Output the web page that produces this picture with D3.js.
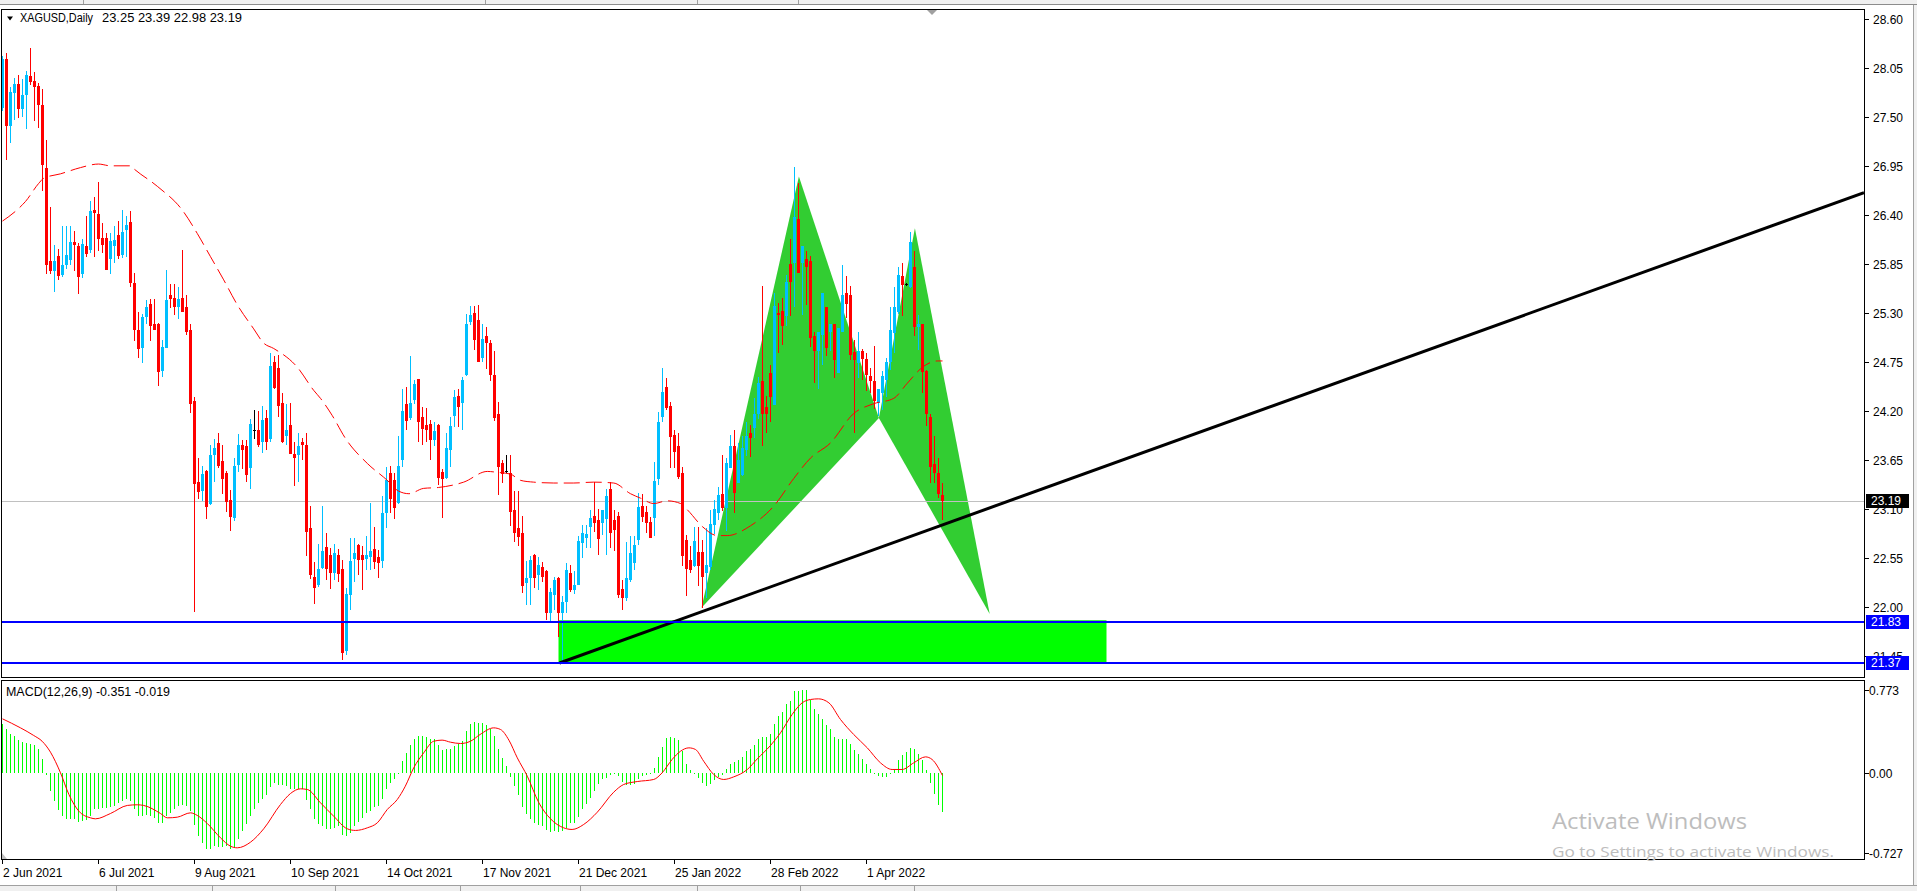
<!DOCTYPE html>
<html><head><meta charset="utf-8">
<script src="https://cdn.jsdelivr.net/npm/d3@7"></script>
<style>
html,body{margin:0;padding:0;background:#fff;overflow:hidden}
svg{display:block}
text{font-family:"Liberation Sans",Arial,sans-serif;font-size:12px}
</style></head><body>
<svg id="c" width="1917" height="891"></svg>
<script>
// ---------------- DATA ----------------
const symbolTitle = "XAGUSD,Daily";
const lastQuote = ["23.25","23.39","22.98","23.19"];
const macdTitle = "MACD(12,26,9) -0.351 -0.019";
const tickBars = [0,24,48,72,96,120,144,168,192,216];
const tickLabels = ["2 Jun 2021","6 Jul 2021","9 Aug 2021","10 Sep 2021","14 Oct 2021","17 Nov 2021","21 Dec 2021","25 Jan 2022","28 Feb 2022","1 Apr 2022"];
const priceTicks = [21.45,22.00,22.55,23.10,23.65,24.20,24.75,25.30,25.85,26.40,26.95,27.50,28.05,28.60];
const macdTicks = [0.773,0.00,-0.727];
const macdTickLabels = ["0.773","0.00","-0.727"];

const open = [
27.60,28.15,27.40,27.77,27.87,27.59,27.74,27.96,27.90,27.85,
27.63,26.93,25.88,25.77,25.94,25.72,25.84,25.89,26.10,26.05,
25.74,26.05,26.01,26.45,26.41,26.14,26.14,25.90,26.05,26.17,
25.95,26.23,26.32,25.64,25.11,24.91,25.25,25.40,25.18,25.18,
24.65,24.91,25.50,25.47,25.37,25.47,25.36,25.11,24.31,23.40,
23.30,23.52,23.15,23.70,23.84,23.64,23.50,23.20,23.00,23.59,
23.82,23.81,23.56,23.99,23.99,23.85,24.12,23.88,24.75,24.68,
24.29,23.92,24.04,23.72,23.70,23.85,23.82,22.89,22.33,22.25,
22.44,22.67,22.58,22.38,22.58,22.42,21.50,22.13,22.54,22.69,
22.58,22.54,22.56,22.65,22.56,22.52,23.05,23.50,23.42,23.17,
23.65,24.28,24.12,24.32,24.56,24.13,24.04,24.05,23.87,24.04,
23.51,23.45,23.76,24.14,24.37,24.29,24.60,25.20,25.30,25.22,
24.79,25.04,24.96,24.60,24.17,23.62,23.53,23.50,23.09,22.88,
22.83,22.27,22.32,22.58,22.36,22.45,22.40,21.93,22.13,22.32,
21.93,22.05,22.38,22.19,22.24,22.72,22.77,22.90,23.02,22.97,
22.94,22.99,23.32,22.97,23.02,22.20,22.10,22.30,22.49,22.75,
23.13,23.06,22.95,23.00,23.43,24.13,24.47,24.25,23.93,23.80,
23.50,22.75,22.53,22.46,22.62,22.62,22.38,22.45,22.92,23.05,
23.27,23.11,23.56,23.81,23.39,23.48,23.76,23.95,24.01,24.16,
24.54,24.24,24.62,24.27,25.30,25.32,25.26,25.85,25.86,26.35,
25.86,25.90,25.88,25.04,24.87,25.05,25.37,25.09,25.18,24.62,
25.09,25.52,25.50,24.86,24.74,24.87,24.78,24.59,24.53,24.29,
24.40,24.55,24.75,25.07,25.31,25.71,25.62,25.59,25.81,25.14,
25.17,24.65,24.13,23.60,23.50,23.25];
const high = [
28.18,28.22,27.84,27.94,27.97,27.92,28.01,28.27,28.00,27.88,
27.81,27.24,26.49,26.06,26.02,26.27,26.28,26.28,26.22,26.08,
26.13,26.39,26.55,26.60,26.77,26.31,26.20,26.20,26.27,26.33,
26.45,26.39,26.44,25.75,25.31,25.29,25.44,25.45,25.45,25.19,
24.99,25.78,25.62,25.62,25.59,26.00,25.50,25.18,24.35,23.67,
23.58,23.54,23.82,23.88,23.95,23.82,23.53,23.31,23.67,23.94,
23.87,23.87,24.11,24.21,24.20,24.25,24.21,24.85,24.81,24.83,
24.40,24.28,24.29,23.85,23.95,23.89,23.95,23.13,22.50,22.71,
23.13,22.83,22.66,22.70,22.65,22.53,22.21,22.77,22.77,22.70,
22.68,22.79,23.17,22.90,22.64,23.24,23.57,23.58,23.50,23.92,
24.45,24.47,24.82,24.55,24.56,24.24,24.23,24.10,24.08,24.05,
23.55,23.95,24.13,24.43,24.45,24.58,25.29,25.38,25.38,25.39,
25.18,25.14,25.00,24.87,24.30,23.65,23.70,23.71,23.30,23.30,
23.02,22.51,22.57,22.59,22.56,22.50,22.41,22.21,22.33,22.33,
22.12,22.49,22.47,22.40,22.79,22.92,22.92,23.09,23.40,23.10,
23.09,23.32,23.40,23.09,23.07,22.30,22.73,22.79,22.79,23.28,
23.27,23.13,23.01,23.63,24.19,24.68,24.57,24.30,23.99,23.95,
23.57,22.81,22.68,22.90,22.90,22.75,22.88,23.09,23.20,23.35,
23.70,23.67,23.93,23.98,23.84,23.92,24.08,24.04,24.34,24.58,
25.60,24.37,24.72,25.52,25.41,25.47,25.73,26.13,26.94,26.76,
26.05,25.99,25.94,25.09,25.09,25.52,25.37,25.18,25.18,25.13,
25.84,25.71,25.60,25.00,25.08,24.89,24.85,24.68,24.93,24.44,
24.65,24.79,25.37,25.59,25.81,25.86,25.64,26.21,25.99,25.28,
25.18,24.66,24.16,23.92,23.67,23.39];
const low = [
27.57,27.01,27.21,27.46,27.49,27.50,27.36,27.86,27.45,27.38,
26.67,25.74,25.74,25.53,25.67,25.70,25.79,25.84,25.77,25.51,
25.69,25.93,25.97,25.93,25.99,25.97,25.78,25.74,25.86,25.90,
25.91,25.93,25.59,24.98,24.79,24.74,25.18,24.98,25.11,24.48,
24.58,24.90,25.35,25.28,25.23,25.31,25.05,24.18,21.94,23.21,
23.19,22.99,23.14,23.40,23.56,23.27,23.07,22.85,22.96,23.51,
23.55,23.40,23.32,23.88,23.79,23.73,23.76,23.85,24.44,24.13,
23.84,23.82,23.72,23.36,23.40,23.65,22.57,22.31,22.03,22.22,
22.43,22.30,22.20,22.30,22.28,21.40,21.46,21.96,22.28,22.36,
22.19,22.41,22.41,22.43,22.32,22.44,22.88,23.05,22.99,23.15,
23.57,23.98,24.10,24.28,23.85,23.82,23.85,23.65,23.80,23.37,
23.00,23.43,23.57,24.02,24.02,23.98,24.59,25.16,24.88,24.75,
24.75,24.67,24.53,24.09,23.25,23.39,23.50,22.91,22.73,22.68,
22.16,22.02,22.02,22.21,22.19,22.28,21.85,21.83,21.97,21.66,
21.38,21.93,22.17,22.15,22.24,22.55,22.66,22.66,22.84,22.58,
22.81,22.58,22.66,22.63,22.10,21.96,22.07,22.28,22.41,22.69,
22.95,22.83,22.77,22.79,23.37,24.07,24.21,23.56,23.56,23.43,
22.46,22.12,22.38,22.45,22.23,21.99,22.10,22.41,22.82,22.98,
23.08,22.85,23.56,23.05,23.39,23.47,23.69,23.68,23.89,24.11,
23.81,23.95,24.07,24.26,24.85,24.94,25.15,25.27,25.37,25.75,
25.28,25.39,24.92,24.51,24.44,24.72,24.81,24.87,24.57,24.62,
25.09,25.24,24.77,23.95,24.57,24.55,24.42,24.40,24.22,24.14,
24.21,24.36,24.66,24.85,25.29,25.26,25.60,25.58,25.04,24.88,
24.40,24.03,23.39,23.39,23.22,22.98];
const close = [
28.15,27.40,27.78,27.87,27.59,27.74,27.97,27.89,27.83,27.63,
26.96,25.84,25.77,25.88,25.71,25.84,25.95,26.10,26.06,25.70,
26.07,25.96,26.44,26.42,26.13,26.06,25.78,26.11,26.12,25.94,
26.21,26.29,25.63,25.11,24.89,25.25,25.36,25.15,25.11,24.64,
24.92,25.44,25.46,25.36,25.46,25.31,25.08,24.28,23.38,23.29,
23.49,23.12,23.70,23.78,23.58,23.43,23.18,23.01,23.58,23.82,
23.76,23.48,24.05,23.99,23.82,24.10,23.85,24.70,24.46,24.25,
23.85,23.99,23.72,23.67,23.80,23.82,22.84,22.36,22.21,22.42,
22.63,22.42,22.38,22.60,22.37,21.48,22.15,22.51,22.61,22.53,
22.53,22.58,22.63,22.50,22.49,23.05,23.42,23.21,23.11,23.58,
24.20,24.09,24.29,24.50,24.07,24.00,23.99,23.87,23.97,23.45,
23.43,23.78,24.03,24.36,24.24,24.55,25.18,25.28,25.00,24.75,
25.01,24.96,24.60,24.12,23.57,23.49,23.53,23.07,22.83,22.78,
22.23,22.32,22.53,22.32,22.47,22.34,21.93,22.17,22.30,21.93,
22.05,22.41,22.19,22.24,22.74,22.83,22.82,23.00,22.94,22.76,
23.09,23.24,22.83,22.86,22.13,22.10,22.32,22.60,22.69,23.12,
23.01,22.94,22.77,23.41,24.07,24.41,24.23,23.91,23.74,23.46,
22.57,22.42,22.41,22.74,22.46,22.34,22.47,22.93,23.10,23.25,
23.11,23.61,23.80,23.28,23.65,23.78,23.92,23.90,24.16,24.51,
24.16,24.17,24.36,25.38,25.28,25.15,25.65,25.65,26.38,25.75,
26.05,25.81,25.02,24.87,25.09,25.52,24.90,25.18,24.77,25.13,
25.50,25.40,24.83,24.77,24.87,24.78,24.60,24.53,24.31,24.44,
24.59,24.75,25.11,25.37,25.72,25.61,25.62,26.09,25.14,25.18,
24.64,24.17,23.57,23.50,23.27,23.19];

const maBars = [0,4,5.75,9,10.3,14.5,19.5,24,27,32,32.75,38.7,45,48.7,52,55.3,58.7,62.8,65.3,67.8,73.7,77.8,79.5,82.4,85.75,91.2,96.2,99,101.6,105.3,109,115.3,121.2,123.7,127,129.5,132.8,137.8,142.8,147.8,152.8,157,159.5,162.8,166.2,169.5,171.2,175,178.7,181.2,187,192.8,197.8,202,207,212.8,217.8,222.8,226.2,230.3,233.7,235];
const maVals = [26.33,26.47,26.55,26.75,26.81,26.86,26.93,26.97,26.95,26.95,26.92,26.72,26.45,26.19,25.93,25.67,25.39,25.12,24.96,24.90,24.69,24.43,24.34,24.15,23.89,23.61,23.42,23.30,23.27,23.33,23.34,23.40,23.52,23.51,23.49,23.42,23.40,23.39,23.39,23.40,23.39,23.27,23.22,23.16,23.19,23.16,23.09,22.90,22.80,22.80,22.91,23.13,23.44,23.67,23.84,24.17,24.28,24.34,24.51,24.70,24.76,24.76];

const macdMain = [
0.451,0.405,0.359,0.343,0.304,0.288,0.282,0.276,0.258,0.221,
0.135,-0.018,-0.163,-0.255,-0.337,-0.393,-0.423,-0.423,-0.423,-0.448,
-0.439,-0.429,-0.393,-0.331,-0.325,-0.316,-0.316,-0.307,-0.301,-0.270,
-0.255,-0.239,-0.255,-0.331,-0.393,-0.393,-0.386,-0.393,-0.408,-0.454,
-0.454,-0.393,-0.362,-0.331,-0.301,-0.294,-0.301,-0.347,-0.478,-0.577,
-0.638,-0.699,-0.693,-0.669,-0.675,-0.675,-0.669,-0.699,-0.675,-0.607,
-0.531,-0.469,-0.393,-0.331,-0.270,-0.239,-0.202,-0.123,-0.086,-0.110,
-0.110,-0.117,-0.141,-0.141,-0.141,-0.141,-0.245,-0.331,-0.417,-0.469,
-0.485,-0.509,-0.509,-0.500,-0.485,-0.570,-0.577,-0.546,-0.485,-0.448,
-0.408,-0.362,-0.347,-0.307,-0.301,-0.233,-0.141,-0.086,-0.055,0.006,
0.113,0.190,0.258,0.322,0.343,0.343,0.337,0.319,0.313,0.258,
0.215,0.221,0.227,0.251,0.276,0.297,0.389,0.460,0.472,0.466,
0.466,0.442,0.411,0.343,0.230,0.141,0.067,-0.031,-0.117,-0.202,
-0.307,-0.377,-0.417,-0.460,-0.478,-0.485,-0.521,-0.540,-0.530,-0.540,
-0.530,-0.500,-0.460,-0.454,-0.399,-0.331,-0.285,-0.224,-0.163,-0.101,
-0.049,-0.040,-0.018,-0.009,-0.025,-0.080,-0.110,-0.110,-0.101,-0.055,
-0.025,-0.018,-0.009,0.052,0.153,0.245,0.328,0.337,0.328,0.307,
0.205,0.092,0.031,0.006,-0.040,-0.092,-0.117,-0.101,-0.061,-0.031,
-0.018,0.037,0.092,0.104,0.123,0.153,0.205,0.221,0.258,0.319,
0.337,0.337,0.368,0.460,0.527,0.564,0.635,0.665,0.757,0.757,
0.767,0.767,0.675,0.589,0.543,0.497,0.442,0.405,0.337,0.319,
0.319,0.319,0.276,0.215,0.175,0.135,0.092,0.043,0.006,-0.025,
-0.031,-0.031,0.006,0.031,0.123,0.166,0.196,0.236,0.221,0.184,
0.123,0.031,-0.092,-0.193,-0.294,-0.351];
const sigBars = [0,4.5,7.8,9.9,12,14.5,16.6,19.1,22,23.25,27,31.2,33.7,35.3,39.5,41.2,43.7,47,48.7,51.2,54.5,57,58.7,62,65.3,69.5,72,74.5,76.2,79.5,82.8,86.2,88.25,91.2,93.7,96.2,98.7,100.7,102.8,105.3,107.8,109.9,112,114.5,117,119.4,122.8,124.5,126.6,128.7,131.2,134.1,137,140.3,142.4,145.3,148.7,152.8,155.3,158.7,162.8,164.9,167.4,169.5,171.6,173.25,175.3,177.8,180.3,182.8,186.2,188.7,192,194.5,197.4,199.9,202,204,206.6,209.5,212.8,216.2,219.5,222.4,224.9,227.8,230.75,232.4,235];
const sigVals = [0.503,0.420,0.350,0.297,0.196,0.006,-0.193,-0.347,-0.408,-0.417,-0.368,-0.294,-0.288,-0.294,-0.368,-0.408,-0.402,-0.362,-0.386,-0.460,-0.592,-0.669,-0.684,-0.632,-0.509,-0.285,-0.184,-0.141,-0.147,-0.270,-0.393,-0.509,-0.524,-0.500,-0.454,-0.331,-0.239,-0.117,0.052,0.190,0.297,0.307,0.288,0.276,0.297,0.359,0.420,0.405,0.307,0.144,-0.025,-0.270,-0.417,-0.500,-0.515,-0.469,-0.356,-0.172,-0.101,-0.074,-0.055,0.006,0.129,0.205,0.236,0.221,0.113,-0.009,-0.055,-0.031,0.037,0.135,0.258,0.374,0.543,0.650,0.681,0.687,0.650,0.497,0.359,0.236,0.098,0.037,0.037,0.098,0.153,0.129,-0.019];

// harmonic pattern X,A,B,C,D
const patternBars = [174.75,199.1,219.1,228.1,246.8];
const patternPrices = [21.99,26.83,24.12,26.25,21.92];
const zoneBars = [139,276];
const zonePrices = [21.37,21.85];
const trendBars = [139.25,279.5];
const trendPrices = [21.37,23.64];
const levels = [21.83,21.37];
const levelLabels = ["21.83","21.37"];
const currentPrice = 23.19;
const currentLabel = "23.19";

// ---------------- DRAW ----------------
const svg = d3.select("#c");
const PL=2, PR=1864, MT=10, MB=677, ST=681, SB=859;

const x = d3.scaleLinear().domain([0,1]).range([2.5,6.5]);
const y = d3.scaleLinear().domain([21.37,28.60]).range([663,18.8]);
const ym = d3.scaleLinear().domain([-0.727,0.773]).range([852.5,689.5]);
const col = i => Math.floor(x(i));

// chrome
svg.append("rect").attr("x",0).attr("y",0).attr("width",1917).attr("height",891).attr("fill","#fff");
svg.append("rect").attr("x",0).attr("y",0).attr("width",1917).attr("height",4).attr("fill","#f0f0f0");
svg.append("line").attr("x1",0).attr("x2",1917).attr("y1",4.5).attr("y2",4.5).attr("stroke","#8c8c8c");
[83,485,697,798].forEach(v=>svg.append("line").attr("x1",v+0.5).attr("x2",v+0.5).attr("y1",0).attr("y2",4).attr("stroke","#a0a0a0"));
svg.append("rect").attr("x",1914).attr("y",5).attr("width",3).attr("height",886).attr("fill","#f0f0f0");
svg.append("line").attr("x1",1913.5).attr("x2",1913.5).attr("y1",5).attr("y2",886).attr("stroke","#a0a0a0");
svg.append("rect").attr("x",0).attr("y",886).attr("width",1917).attr("height",5).attr("fill","#f0f0f0");
svg.append("line").attr("x1",0).attr("x2",1917).attr("y1",885.5).attr("y2",885.5).attr("stroke","#a0a0a0");
[116,212,335,460,580,697,800,914].forEach(v=>svg.append("line").attr("x1",v+0.5).attr("x2",v+0.5).attr("y1",886).attr("y2",891).attr("stroke","#a0a0a0"));

const defs = svg.append("defs");
defs.append("clipPath").attr("id","cm").append("rect").attr("x",PL).attr("y",MT).attr("width",PR-PL).attr("height",MB-MT);
defs.append("clipPath").attr("id","cs").append("rect").attr("x",PL).attr("y",ST).attr("width",PR-PL).attr("height",SB-ST);

const gm = svg.append("g").attr("clip-path","url(#cm)");
const gs = svg.append("g").attr("clip-path","url(#cs)");

// background objects: zone rectangle and pattern triangles
gm.append("rect").attr("x",x(zoneBars[0])).attr("y",y(zonePrices[1]))
  .attr("width",x(zoneBars[1])-x(zoneBars[0])).attr("height",y(zonePrices[0])-y(zonePrices[1]))
  .attr("fill","#00ff00");
const pts = patternBars.map((b,k)=>[x(b),y(patternPrices[k])]);
const tri = d3.line();
gm.append("path").attr("d",tri([pts[0],pts[1],pts[2]])+"Z").attr("fill","#32cd32");
gm.append("path").attr("d",tri([pts[2],pts[3],pts[4]])+"Z").attr("fill","#32cd32");

// bid line
gm.append("line").attr("x1",PL).attr("x2",PR).attr("y1",Math.round(y(currentPrice))+0.5).attr("y2",Math.round(y(currentPrice))+0.5)
  .attr("stroke","#c0c0c0").attr("stroke-width",1);

// candles
const cg = gm.append("g").attr("shape-rendering","crispEdges");
open.forEach((o,i)=>{
  const c=close[i], h=Math.max(high[i],o,c), l=Math.min(low[i],o,c);
  const color = c>o ? "#00bfff" : (c<o ? "#ff0000" : "#000000");
  const cx = col(i);
  const yh=Math.round(y(h)), yl=Math.round(y(l));
  cg.append("rect").attr("x",cx).attr("y",yh).attr("width",1).attr("height",Math.max(1,yl-yh)).attr("fill",color);
  const yt=Math.round(y(Math.max(o,c))), yb=Math.round(y(Math.min(o,c)));
  cg.append("rect").attr("x",cx-1).attr("y",yt).attr("width",3).attr("height",Math.max(1,yb-yt)).attr("fill",color);
});

// moving average (dashed)
const maLine = d3.line().x(d=>x(d[0])).y(d=>y(d[1])).curve(d3.curveMonotoneX);
gm.append("path").attr("d",maLine(maBars.map((b,k)=>[b,maVals[k]])))
  .attr("fill","none").attr("stroke","#ff0000").attr("stroke-width",1).attr("stroke-dasharray","16,6");

// trend line (ray)
const slope = (trendPrices[1]-trendPrices[0])/(trendBars[1]-trendBars[0]);
const endBar = x.invert(PR);
const endPrice = trendPrices[0]+slope*(endBar-trendBars[0]);
gm.append("line").attr("x1",x(trendBars[0])).attr("y1",y(trendPrices[0]))
  .attr("x2",x(endBar)).attr("y2",y(endPrice)).attr("stroke","#000").attr("stroke-width",3);

// horizontal levels
levels.forEach(p=>{
  gm.append("line").attr("x1",PL).attr("x2",PR).attr("y1",Math.round(y(p))).attr("y2",Math.round(y(p)))
    .attr("stroke","#0000ff").attr("stroke-width",2);
});

// MACD histogram + signal
const hg = gs.append("g").attr("shape-rendering","crispEdges");
const z = Math.round(ym(0));
macdMain.forEach((v,i)=>{
  const yv=Math.round(ym(v));
  hg.append("rect").attr("x",col(i)).attr("y",Math.min(yv,z)).attr("width",1).attr("height",Math.max(1,Math.abs(yv-z))).attr("fill","#00ff00");
});
const sigLine = d3.line().x(d=>x(d[0])).y(d=>ym(d[1])).curve(d3.curveMonotoneX);
gs.append("path").attr("d",sigLine(sigBars.map((b,k)=>[b,sigVals[k]])))
  .attr("fill","none").attr("stroke","#ff0000").attr("stroke-width",1);

// frames
svg.append("rect").attr("x",1.5).attr("y",9.5).attr("width",PR-1).attr("height",MB-9).attr("fill","none").attr("stroke","#000");
svg.append("rect").attr("x",1.5).attr("y",680.5).attr("width",PR-1).attr("height",SB-680).attr("fill","none").attr("stroke","#000");

// chart shift marker and corner marker
svg.append("path").attr("d","M927,10 L937,10 L932,15 Z").attr("fill","#a0a0a0");
svg.append("path").attr("d","M2,853 L2,859 L7,859 Z").attr("fill","#c0c0c0");

// price axis
priceTicks.forEach(p=>{
  const yy=Math.round(y(p))+0.5;
  svg.append("line").attr("x1",PR+1).attr("x2",PR+5).attr("y1",yy).attr("y2",yy).attr("stroke","#000");
  svg.append("text").attr("x",1873).attr("y",yy).attr("dy","0.36em").text(p.toFixed(2));
});
macdTicks.forEach((v,k)=>{
  const yy=Math.round(ym(v))+0.5;
  svg.append("line").attr("x1",PR+1).attr("x2",PR+5).attr("y1",yy).attr("y2",yy).attr("stroke","#000");
  svg.append("text").attr("x",1869).attr("y",yy).attr("dy","0.36em").text(macdTickLabels[k]);
});
// price boxes
function box(p,label,fill){
  const yy=Math.round(y(p));
  svg.append("rect").attr("x",1866).attr("y",yy-7).attr("width",43).attr("height",14).attr("fill",fill);
  svg.append("text").attr("x",1871).attr("y",yy).attr("dy","0.36em").attr("fill","#fff").text(label);
}
box(currentPrice,currentLabel,"#000");
levels.forEach((p,k)=>box(p,levelLabels[k],"#0000ff"));

// time axis
tickBars.forEach((b,k)=>{
  const xx=col(b)+0.5;
  svg.append("line").attr("x1",xx).attr("x2",xx).attr("y1",SB+1).attr("y2",SB+5).attr("stroke","#000");
  svg.append("text").attr("x",col(b)+1).attr("y",877).text(tickLabels[k]);
});

// titles
svg.append("path").attr("d","M7,16.5 L13,16.5 L10,20.5 Z").attr("fill","#000");
svg.append("text").attr("x",20).attr("y",22).attr("textLength",73).attr("lengthAdjust","spacingAndGlyphs").text(symbolTitle);
svg.append("text").attr("x",102).attr("y",22).attr("textLength",140).attr("lengthAdjust","spacingAndGlyphs").text(lastQuote.join(" "));
svg.append("text").attr("x",6).attr("y",696).attr("textLength",164).attr("lengthAdjust","spacingAndGlyphs").text(macdTitle);

// watermark
svg.append("text").attr("x",1552).attr("y",829).attr("textLength",195).attr("lengthAdjust","spacingAndGlyphs")
  .style("font-family","'Open Sans','Noto Sans',sans-serif").style("font-size","21px").attr("fill","#bdbdbd").text("Activate Windows");
svg.append("text").attr("x",1552).attr("y",857).attr("textLength",282).attr("lengthAdjust","spacingAndGlyphs")
  .style("font-family","'Open Sans','Noto Sans',sans-serif").style("font-size","15px").attr("fill","#bdbdbd").text("Go to Settings to activate Windows.");
</script>
</body></html>
